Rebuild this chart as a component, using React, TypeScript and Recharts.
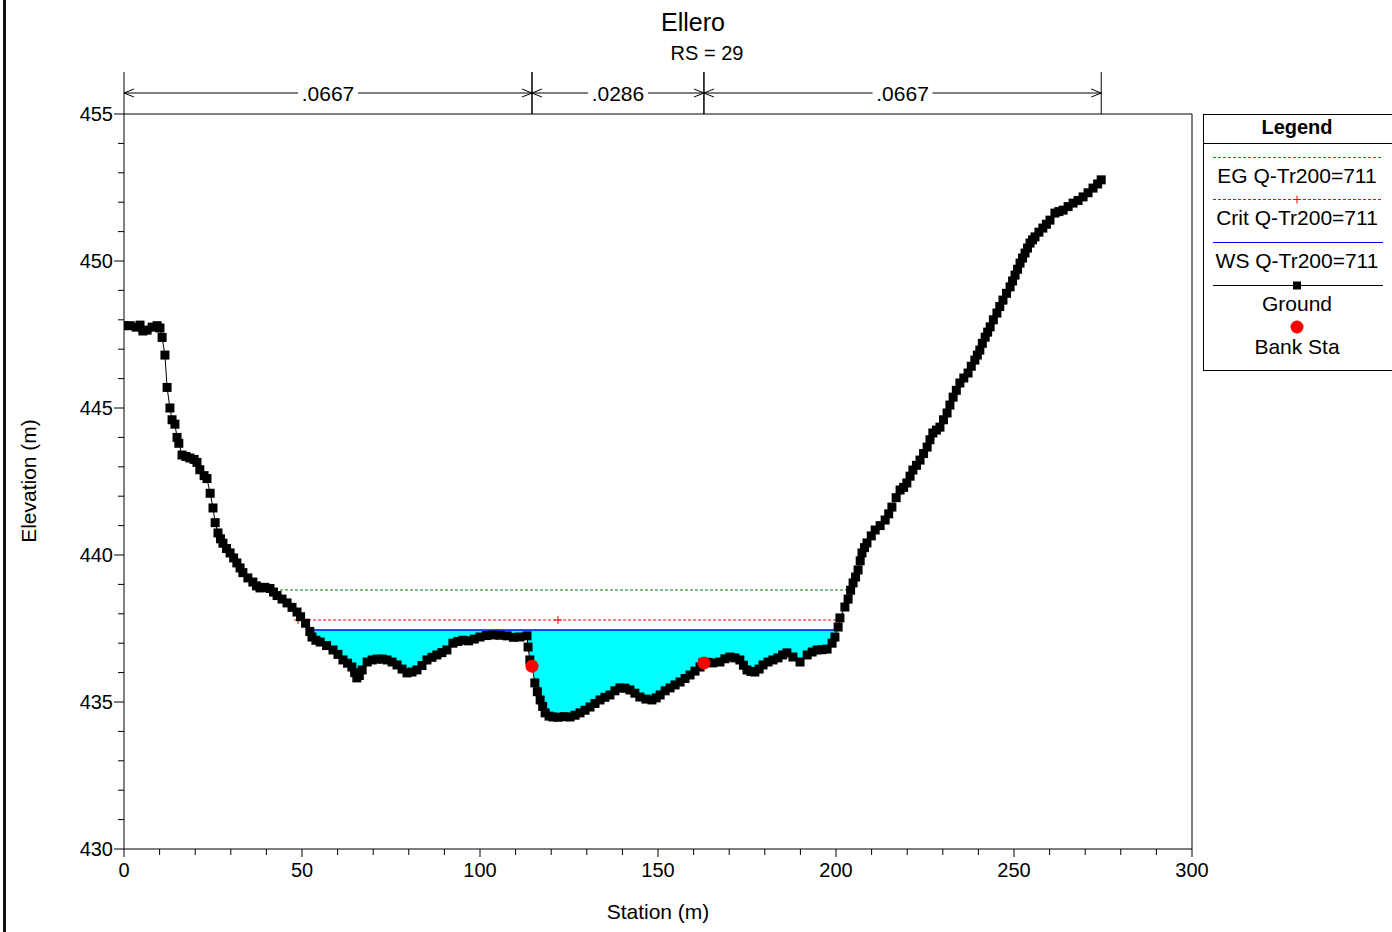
import React from 'react';
import { ComposedChart, Line, Area, XAxis, YAxis, ReferenceLine } from 'recharts';

const FONT = '"Liberation Sans", Arial, sans-serif';

// ground profile
const groundStation = [
  0.0, 1.7, 3.4, 4.5, 5.3, 6.5, 7.9, 9.3, 10.1, 10.7, 11.5, 12.1, 12.9, 13.5, 14.3, 14.9, 15.4, 16.3,
  17.4, 18.5, 19.7, 20.5, 21.3, 22.5, 23.3, 24.2, 25.0, 25.6, 26.4, 27.1, 27.8, 28.8, 29.8, 30.8, 31.7,
  32.6, 33.4, 34.8, 36.2, 37.2, 38.2, 39.6, 41.0, 42.0, 43.0, 44.4, 45.8, 47.2, 48.6, 49.6, 51.0, 52.2,
  52.8, 53.9, 55.1, 56.9, 58.7, 60.1, 61.5, 62.8, 64.0, 64.8, 65.4, 66.1, 66.9, 68.3, 69.7, 71.1, 72.5,
  73.9, 75.3, 76.7, 78.1, 79.5, 80.9, 82.3, 83.7, 85.1, 86.5, 87.9, 89.3, 90.7, 92.4, 93.8, 95.2, 96.8,
  98.4, 100.0, 101.8, 103.7, 105.6, 107.6, 109.4, 111.2, 113.2, 113.5, 114.0, 114.6, 115.4, 116.1, 116.9,
  117.6, 118.3, 119.4, 120.5, 121.9, 123.6, 125.3, 126.7, 128.1, 129.5, 130.9, 132.3, 133.7, 135.1, 136.5,
  137.9, 139.3, 140.7, 142.1, 143.5, 144.9, 146.6, 148.3, 149.5, 150.6, 152.0, 153.4, 154.8, 156.2, 157.6,
  159.0, 160.4, 161.8, 162.6, 164.0, 165.4, 167.4, 168.8, 170.2, 171.6, 173.0, 174.0, 175.0, 176.1, 177.2,
  178.4, 179.5, 180.9, 182.3, 183.7, 185.0, 186.2, 187.9, 189.9, 191.9, 193.3, 194.7, 196.1, 197.5, 198.9,
  199.7, 200.6, 201.1, 202.5, 203.4, 204.1,
  204.8, 205.5, 206.2, 206.8, 207.3, 208.0, 208.7, 209.9, 211.0, 212.4, 213.8, 214.8, 215.7, 216.9, 218.0,
  219.0, 219.9, 220.8, 221.6, 222.6, 223.6, 224.6, 225.6, 226.4, 227.2, 228.2, 229.2, 230.2, 231.2, 232.0,
  232.9, 233.8, 234.8, 235.9, 237.1, 238.0, 239.0, 239.7, 240.4, 241.1, 241.9, 242.6, 243.3, 244.2, 245.2,
  246.0, 246.9, 247.9, 248.9, 249.6, 250.3, 251.0, 251.7, 252.4, 253.1, 253.8, 254.5, 255.2, 255.9, 257.0,
  258.1, 259.1, 260.1, 261.5, 262.6, 263.8, 265.2, 266.6, 268.0, 269.4, 270.8, 272.2, 273.5, 274.5,
];
const groundElev = [
  447.8, 447.8, 447.75, 447.82, 447.62, 447.65, 447.75, 447.8, 447.72, 447.4, 446.8, 445.7, 445.0, 444.6,
  444.45, 444.0, 443.8, 443.4, 443.35, 443.3, 443.25, 443.15, 442.9, 442.7, 442.6, 442.1, 441.6, 441.1,
  440.75, 440.55, 440.4, 440.22, 440.07, 439.9, 439.73, 439.56, 439.4, 439.22, 439.08, 438.95, 438.88,
  438.9, 438.86, 438.74, 438.62, 438.5, 438.37, 438.22, 438.06, 437.9, 437.68, 437.4, 437.21, 437.1,
  437.04, 436.92, 436.77, 436.62, 436.43, 436.32, 436.19, 436.0, 435.82, 435.9, 436.09, 436.36, 436.43,
  436.46, 436.46, 436.43, 436.36, 436.26, 436.12, 435.99, 436.02, 436.09, 436.24, 436.43, 436.52, 436.6,
  436.68, 436.77, 437.0, 437.06, 437.1, 437.08, 437.14, 437.21, 437.26, 437.28, 437.27, 437.25, 437.2,
  437.21, 437.25, 436.87, 436.43, 436.22, 435.65, 435.35, 435.07, 434.85, 434.63, 434.52, 434.49, 434.48,
  434.5, 434.49, 434.55, 434.63, 434.72, 434.83, 434.95, 435.07, 435.16, 435.24, 435.38, 435.48, 435.47,
  435.41, 435.3, 435.17, 435.1, 435.07, 435.14, 435.24, 435.38, 435.48, 435.58, 435.68, 435.8, 435.92,
  436.05, 436.19, 436.33, 436.35, 436.33, 436.36, 436.47, 436.53, 436.5, 436.43, 436.25, 436.09, 436.04,
  436.02, 436.12, 436.26, 436.36, 436.43, 436.5, 436.6, 436.67, 436.53, 436.36, 436.6, 436.7, 436.77,
  436.78, 436.8, 437.0, 437.21, 437.55, 437.86, 438.23, 438.5, 438.8,
  439.05, 439.25, 439.49, 439.8, 440.07, 440.25, 440.41, 440.65, 440.85, 441.0, 441.19, 441.4, 441.63,
  441.95, 442.21, 442.3, 442.45, 442.68, 442.89, 443.05, 443.23, 443.45, 443.67, 443.92, 444.15, 444.25,
  444.35, 444.6, 444.83, 445.1, 445.37, 445.6, 445.85, 446.02, 446.19, 446.42, 446.63, 446.8, 446.97,
  447.2, 447.41, 447.58, 447.76, 448.0, 448.23, 448.45, 448.67, 448.9, 449.12, 449.32, 449.52, 449.72,
  449.93, 450.1, 450.27, 450.44, 450.61, 450.72, 450.82, 450.98, 451.12, 451.25, 451.39, 451.63, 451.68,
  451.73, 451.85, 451.97, 452.06, 452.18, 452.32, 452.48, 452.62, 452.76,
];

const bankStation = [114.6, 162.9];
const bankElev = [436.22, 436.33];

const wsElev = 437.45;
const wsExtent = [52.0, 200.0];
const critElev = 437.79;
const critStation = [48.9, 121.9, 200.8];
const egElev = 438.81;
const egExtent = [38.2, 203.4];

// Manning's n breaks
const nStation = [0, 114.6, 162.9, 274.5];
const nValue = ['.0667', '.0286', '.0667'];

const xTicks = [0, 10, 20, 30, 40, 50, 60, 70, 80, 90, 100, 110, 120, 130, 140, 150, 160, 170, 180, 190, 200,
  210, 220, 230, 240, 250, 260, 270, 280, 290, 300];
const yTicks = [430, 431, 432, 433, 434, 435, 436, 437, 438, 439, 440, 441, 442, 443, 444, 445, 446, 447, 448,
  449, 450, 451, 452, 453, 454, 455];

const ground = groundStation.map((st, i) => ({ st, el: groundElev[i] }));
const banks = bankStation.map((st, i) => ({ st, el: bankElev[i] }));
const wsData = wsExtent.map((st) => ({ st, el: wsElev }));
const critData = critStation.map((st) => ({ st, el: critElev }));
const egData = egExtent.map((st) => ({ st, el: egElev }));
const waterData = [
  { st: wsExtent[0], band: [wsElev, wsElev] },
  ...ground
    .filter((p) => p.st > wsExtent[0] && p.st < wsExtent[1] && p.el < wsElev)
    .map((p) => ({ st: p.st, band: [p.el, wsElev] })),
  { st: wsExtent[1], band: [wsElev, wsElev] },
];

const SquareDot = (props: any) => {
  const { cx, cy, size = 9 } = props;
  if (cx == null || cy == null) return null;
  return <rect x={cx - size / 2} y={cy - size / 2} width={size} height={size} fill="#000" />;
};

const CrossDot = (props: any) => {
  const { cx, cy } = props;
  if (cx == null || cy == null) return null;
  return (
    <g stroke="#ff0000" strokeWidth={1}>
      <line x1={cx - 4} x2={cx + 4} y1={cy} y2={cy} />
      <line x1={cx} x2={cx} y1={cy - 4} y2={cy + 4} />
    </g>
  );
};

const BankDot = (props: any) => {
  const { cx, cy } = props;
  if (cx == null || cy == null) return null;
  return <circle cx={cx} cy={cy} r={6.5} fill="#ff0000" />;
};

const XTick = (props: any) => {
  const { x, y, payload } = props;
  const major = payload.value % 50 === 0;
  return (
    <g>
      <line x1={x} x2={x} y1={y} y2={y + (major ? 8 : 6)} stroke="#000" />
      {major && (
        <text x={x} y={y + 28} textAnchor="middle" fontSize={20} fontFamily={FONT} fill="#000">
          {payload.value}
        </text>
      )}
    </g>
  );
};

const YTick = (props: any) => {
  const { x, y, payload } = props;
  const major = payload.value % 5 === 0;
  return (
    <g>
      <line x1={x} x2={x - (major ? 10 : 6)} y1={y} y2={y} stroke="#000" />
      {major && (
        <text x={x - 11} y={y + 7} textAnchor="end" fontSize={20} fontFamily={FONT} fill="#000">
          {payload.value}
        </text>
      )}
    </g>
  );
};

const nBracket = (label: string) => (props: any) => {
  const { x1, y1, x2 } = props;
  const yy = y1 - 21;
  const mid = (x1 + x2) / 2;
  const gap = 30;
  return (
    <g stroke="#000" strokeWidth={1} fill="none">
      <line x1={x1} x2={x1} y1={y1 - 42} y2={y1} />
      <line x1={x2} x2={x2} y1={y1 - 42} y2={y1} />
      <line x1={x1} x2={mid - gap} y1={yy} y2={yy} />
      <line x1={mid + gap} x2={x2} y1={yy} y2={yy} />
      <polyline points={`${x1 + 10},${yy - 4} ${x1},${yy} ${x1 + 10},${yy + 4}`} />
      <polyline points={`${x2 - 10},${yy - 4} ${x2},${yy} ${x2 - 10},${yy + 4}`} />
      <text x={mid} y={yy + 8} textAnchor="middle" fontSize={21} fontFamily={FONT} fill="#000" stroke="none">
        {label}
      </text>
    </g>
  );
};

const LegendBox = () => (
  <svg width={200} height={260} style={{ position: 'absolute', left: 1203, top: 114, fontFamily: FONT }}>
    <rect x={0.5} y={0.5} width={198} height={256} fill="#fff" stroke="#000" />
    <text x={94} y={20} textAnchor="middle" fontSize={20} fontWeight="bold">Legend</text>
    <line x1={0} x2={200} y1={29.5} y2={29.5} stroke="#000" />
    <line x1={10} x2={180} y1={43.5} y2={43.5} stroke="#00a000" strokeDasharray="3 2" />
    <text x={94} y={69} textAnchor="middle" fontSize={21}>EG Q-Tr200=711</text>
    <line x1={10} x2={180} y1={85.5} y2={85.5} stroke="#ff0000" strokeDasharray="3 2" />
    <CrossDot cx={94} cy={85.5} />
    <text x={94} y={111} textAnchor="middle" fontSize={21}>Crit Q-Tr200=711</text>
    <line x1={10} x2={180} y1={128.5} y2={128.5} stroke="#0000ff" />
    <text x={94} y={154} textAnchor="middle" fontSize={21}>WS Q-Tr200=711</text>
    <line x1={10} x2={180} y1={171.5} y2={171.5} stroke="#000" />
    <SquareDot cx={94} cy={171.5} size={8} />
    <text x={94} y={197} textAnchor="middle" fontSize={21}>Ground</text>
    <BankDot cx={94} cy={213} />
    <text x={94} y={240} textAnchor="middle" fontSize={21}>Bank Sta</text>
  </svg>
);

export default function App() {
  return (
    <div style={{ position: 'relative', width: 1392, height: 932, overflow: 'hidden', fontFamily: FONT }}>
      <style>{'body{margin:0;}'}</style>
      <div style={{ position: 'absolute', left: 3, top: 0, width: 3, height: 932, background: '#111' }} />
      <div style={{ position: 'absolute', left: 0, width: 1386, top: 8, textAlign: 'center', fontSize: 25 }}>Ellero</div>
      <div style={{ position: 'absolute', left: 0, width: 1414, top: 42, textAlign: 'center', fontSize: 20 }}>RS = 29</div>
      <div style={{ position: 'absolute', left: 0, width: 1316, top: 900, textAlign: 'center', fontSize: 21 }}>Station (m)</div>
      <div
        style={{
          position: 'absolute', left: 29, top: 481, fontSize: 21, whiteSpace: 'nowrap',
          transform: 'translate(-50%, -50%) rotate(-90deg)',
        }}
      >
        Elevation (m)
      </div>
      <div style={{ position: 'absolute', left: 0, top: 0 }}>
        <ComposedChart width={1392} height={932} margin={{ top: 114, right: 200, left: 64, bottom: 43 }}>
          <XAxis
            type="number" dataKey="st" domain={[0, 300]} ticks={xTicks} allowDataOverflow
            height={40} tickSize={0} tickMargin={0} tickLine={false} tick={<XTick />}
            axisLine={{ stroke: '#000' }} interval={0}
          />
          <YAxis
            type="number" domain={[430, 455]} ticks={yTicks} allowDataOverflow
            width={60} tickSize={0} tickMargin={0} tickLine={false} tick={<YTick />}
            axisLine={{ stroke: '#000' }} interval={0}
          />
          <ReferenceLine y={455} stroke="#000" />
          <ReferenceLine x={300} stroke="#000" />
          {nValue.map((v, i) => (
            <ReferenceLine
              key={i}
              segment={[{ x: nStation[i], y: 455 }, { x: nStation[i + 1], y: 455 }]}
              ifOverflow="visible"
              shape={nBracket(v)}
            />
          ))}
          <Area
            data={waterData} dataKey="band" type="linear" fill="#00ffff" fillOpacity={1}
            stroke="none" isAnimationActive={false} dot={false} activeDot={false}
          />
          <Line
            data={egData} dataKey="el" type="linear" stroke="#008000" strokeDasharray="3 2"
            dot={false} activeDot={false} isAnimationActive={false}
          />
          <Line
            data={critData} dataKey="el" type="linear" stroke="#ff0000" strokeDasharray="3 2"
            dot={<CrossDot />} activeDot={false} isAnimationActive={false}
          />
          <Line
            data={wsData} dataKey="el" type="linear" stroke="#0000ff" strokeWidth={1.5}
            dot={false} activeDot={false} isAnimationActive={false}
          />
          <Line
            data={ground} dataKey="el" type="linear" stroke="#000" strokeWidth={1}
            dot={<SquareDot />} activeDot={false} isAnimationActive={false}
          />
          <Line
            data={banks} dataKey="el" type="linear" stroke="none"
            dot={<BankDot />} activeDot={false} isAnimationActive={false}
          />
        </ComposedChart>
      </div>
      <LegendBox />
    </div>
  );
}
